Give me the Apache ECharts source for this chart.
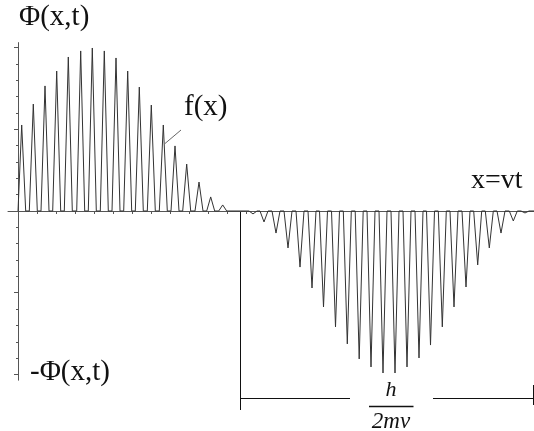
<!DOCTYPE html>
<html>
<head>
<meta charset="utf-8">
<script src="https://cdn.jsdelivr.net/npm/echarts@6/dist/echarts.min.js"></script>
<style>
html,body{margin:0;padding:0;background:#fff;}
#c{width:534px;height:431px;}
</style>
</head>
<body>
<div id="c"></div>
<script>
// Positive packet f(x): spike positions (px from the vertical axis) and heights (axis units)
const peakX = [3.7, 15.3, 27, 38.7, 50.3, 62.7, 74.3, 86.3, 98, 109.7, 121.3, 133.3, 145.3, 157, 168.7, 181, 192.7, 204.7];
const peakH = [5.26, 6.54, 7.65, 8.56, 9.42, 9.79, 9.97, 9.79, 9.36, 8.56, 7.58, 6.48, 5.26, 3.98, 2.87, 1.77, 0.86, 0.37];
// Negative packet around x = vt
const troughX = [235, 246, 258, 270, 282, 294, 305.5, 317.5, 329.3, 341.2, 353, 365, 377, 389, 401, 412.5, 424.3, 436, 448, 459.7, 471.3, 483, 495.3, 507];
const troughD = [-0.18, -0.67, -1.35, -2.26, -3.43, -4.71, -5.87, -7.09, -8.13, -9.05, -9.54, -9.91, -9.91, -9.54, -8.99, -8.2, -7.09, -5.87, -4.65, -3.3, -2.26, -1.35, -0.61, -0.12];
// Axis tick values
const yMajorTicks = [-10, -5, 5, 10];
const yMinorTicks = [-9, -8, -7, -6, -4, -3, -2, -1, 1, 2, 3, 4, 6, 7, 8, 9];
const xTicks = [19, 38, 57, 76, 95, 114, 133, 152, 171, 190, 209, 228];
// Spike foot half-width (x units)
const foot = 4;

const curve = [[0, 0]];
function addSpikes(xs, vs) {
  xs.forEach((x, i) => {
    curve.push([Math.max(0, x - foot), 0]);
    curve.push([x, vs[i]]);
    curve.push([x + foot, 0]);
  });
}
addSpikes(peakX, peakH);
addSpikes(troughX, troughD);
curve.push([516, 0]);

const chart = echarts.init(document.getElementById('c'), null, {renderer: 'canvas'});
const serif = 'Liberation Serif';
chart.setOption({
  animation: false,
  backgroundColor: '#fff',
  grid: {left: 8, right: 0, top: 42.6, bottom: 50.8, containLabel: false},
  xAxis: {
    type: 'value', min: -10, max: 516,
    axisLine: {show: true, onZero: true, lineStyle: {color: '#555', width: 1}},
    axisTick: {show: true, inside: false, length: 3, customValues: xTicks, lineStyle: {color: '#555'}},
    axisLabel: {show: false},
    splitLine: {show: false}
  },
  yAxis: [{
    type: 'value', min: -10.35, max: 10.3,
    axisLine: {show: true, onZero: true, lineStyle: {color: '#555', width: 1}},
    axisTick: {show: true, inside: false, length: 4, customValues: yMajorTicks, lineStyle: {color: '#555'}},
    axisLabel: {show: false},
    splitLine: {show: false}
  }, {
    type: 'value', min: -10.35, max: 10.3, position: 'left', offset: -10,
    axisLine: {show: false, onZero: false},
    axisTick: {show: true, inside: false, length: 2, customValues: yMinorTicks, lineStyle: {color: '#555'}},
    axisLabel: {show: false},
    splitLine: {show: false}
  }],
  series: [{
    type: 'line', data: curve, showSymbol: false, symbol: 'none',
    lineStyle: {color: '#333', width: 1}, clip: true
  }],
  graphic: [
    {type: 'text', left: 19, top: 3, style: {text: 'Φ(x,t)', font: '29px "' + serif + '"', fill: '#111'}},
    {type: 'text', left: 184, top: 93, style: {text: 'f(x)', font: '29px "' + serif + '"', fill: '#111'}},
    {type: 'line', shape: {x1: 181, y1: 130, x2: 165, y2: 143.5}, style: {stroke: '#666', lineWidth: 1}},
    {type: 'text', left: 471, top: 167, style: {text: 'x=vt', font: '28px "' + serif + '"', fill: '#111'}},
    {type: 'text', left: 30, top: 358, style: {text: '-Φ(x,t)', font: '29px "' + serif + '"', fill: '#111'}},
    {type: 'line', shape: {x1: 240.5, y1: 211, x2: 240.5, y2: 410}, style: {stroke: '#111', lineWidth: 1}},
    {type: 'line', shape: {x1: 533.5, y1: 385, x2: 533.5, y2: 405}, style: {stroke: '#111', lineWidth: 1}},
    {type: 'line', shape: {x1: 240.5, y1: 398.5, x2: 350, y2: 398.5}, style: {stroke: '#111', lineWidth: 1}},
    {type: 'line', shape: {x1: 433, y1: 398.5, x2: 534, y2: 398.5}, style: {stroke: '#111', lineWidth: 1}},
    {type: 'line', shape: {x1: 369, y1: 406.5, x2: 413.5, y2: 406.5}, style: {stroke: '#111', lineWidth: 1.4}},
    {type: 'text', style: {x: 391, y: 390, text: 'h', textAlign: 'center', textVerticalAlign: 'middle', font: 'italic 22px "' + serif + '"', fill: '#111'}},
    {type: 'text', style: {x: 391, y: 422, text: '2mv', textAlign: 'center', textVerticalAlign: 'middle', font: 'italic 23px "' + serif + '"', fill: '#111'}}
  ]
});
</script>
</body>
</html>
